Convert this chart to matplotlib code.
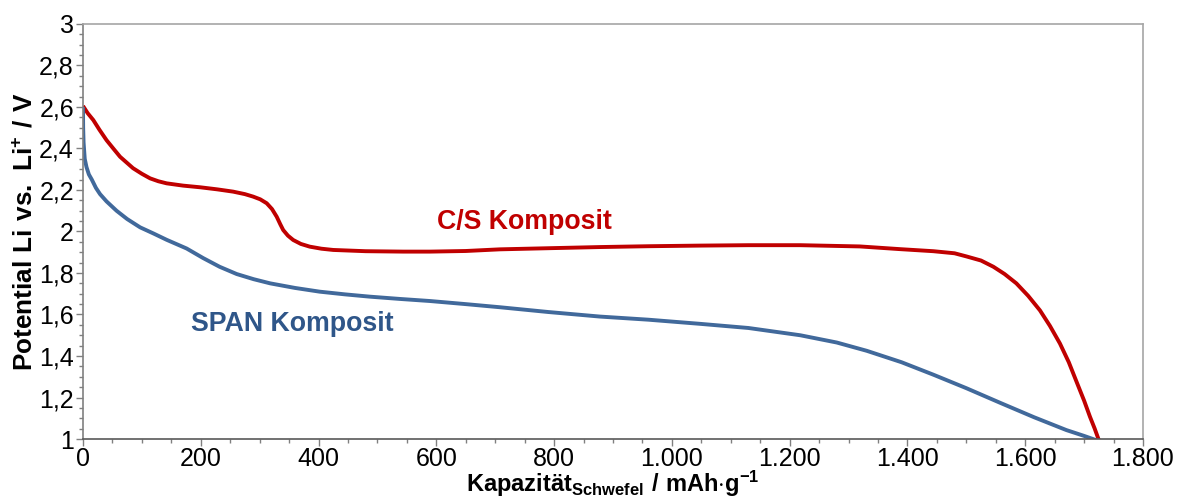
"""Entladekurven C/S- vs. SPAN-Komposit (Potential über Kapazität)."""

import matplotlib

matplotlib.use("Agg")
import matplotlib.pyplot as plt
from matplotlib.ticker import FuncFormatter, MultipleLocator

# C/S Komposit: Kapazität in mAh/g (bezogen auf Schwefel), Potential in V
cap_cs = [0, 8, 17.5, 28, 40, 52, 63, 75, 85, 100, 114, 128, 142, 170, 199,
          228, 255, 275, 289, 301, 312, 321, 329, 335, 340, 348, 357, 370,
          385, 405, 425, 480, 544, 589, 650, 708, 800, 878, 960, 1048, 1130,
          1218, 1319, 1387, 1444, 1480, 1500, 1525, 1546, 1565, 1585, 1605,
          1625, 1642, 1659, 1674, 1688, 1700, 1710, 1718, 1725]
u_cs = [2.605, 2.57, 2.537, 2.49, 2.44, 2.398, 2.36, 2.33, 2.305, 2.278,
        2.256, 2.242, 2.232, 2.221, 2.213, 2.203, 2.192, 2.18, 2.168, 2.155,
        2.136, 2.108, 2.071, 2.035, 2.007, 1.98, 1.959, 1.94, 1.927, 1.917,
        1.911, 1.905, 1.903, 1.903, 1.906, 1.914, 1.92, 1.925, 1.929, 1.932,
        1.934, 1.934, 1.928, 1.915, 1.905, 1.895, 1.88, 1.86, 1.83, 1.795,
        1.75, 1.69, 1.62, 1.545, 1.46, 1.37, 1.27, 1.185, 1.107, 1.05, 0.995]

# SPAN Komposit
cap_span = [0, 0.3, 1, 3, 6, 10, 15, 22, 29, 40, 57, 75, 97, 120, 142, 176,
            204, 232, 261, 290, 318, 360, 402, 445, 487, 538, 589, 650, 708,
            790, 878, 960, 1048, 1130, 1218, 1280, 1331, 1390, 1444, 1500,
            1557, 1615, 1670, 1700, 1725]
u_span = [2.60, 2.50, 2.43, 2.35, 2.31, 2.275, 2.25, 2.21, 2.18, 2.145, 2.10,
          2.06, 2.02, 1.99, 1.96, 1.918, 1.872, 1.83, 1.795, 1.77, 1.75, 1.728,
          1.71, 1.697, 1.686, 1.675, 1.665, 1.65, 1.635, 1.612, 1.59, 1.575,
          1.555, 1.535, 1.50, 1.465, 1.425, 1.37, 1.31, 1.245, 1.175, 1.105,
          1.043, 1.015, 0.99]

RED = "#C00000"
BLUE = "#41699B"
BLUE_TEXT = "#2F5689"

plt.rcParams["font.family"] = ["Liberation Sans", "DejaVu Sans"]
plt.rcParams["mathtext.fontset"] = "custom"
plt.rcParams["mathtext.rm"] = "Liberation Sans"
plt.rcParams["mathtext.bf"] = "Liberation Sans:bold"


def de_decimal(v, _pos):
    s = f"{v:.1f}".rstrip("0").rstrip(".")
    return s.replace(".", ",")


def de_thousands(v, _pos):
    return f"{int(round(v)):,}".replace(",", ".")


fig = plt.figure(figsize=(11.82, 4.99), dpi=100)
ax = fig.add_axes([0.0702, 0.1202, 0.8968, 0.8318])

ax.plot(cap_cs, u_cs, color=RED, lw=2.8, solid_capstyle="butt")
ax.plot(cap_span, u_span, color=BLUE, lw=2.8, solid_capstyle="butt")

ax.set_xlim(0, 1800)
ax.set_ylim(1, 3)
ax.xaxis.set_major_locator(MultipleLocator(200))
ax.xaxis.set_minor_locator(MultipleLocator(50))
ax.yaxis.set_major_locator(MultipleLocator(0.2))
ax.yaxis.set_minor_locator(MultipleLocator(0.05))
ax.xaxis.set_major_formatter(FuncFormatter(de_thousands))
ax.yaxis.set_major_formatter(FuncFormatter(de_decimal))

ax.tick_params(axis="both", which="major", labelsize=18, direction="out",
               length=5, width=1, color="#808080", pad=1.5)
ax.tick_params(axis="x", which="major", pad=0.5)
ax.tick_params(axis="both", which="minor", direction="out",
               length=3, width=1, color="#808080")

ax.spines["left"].set_color("#808080")
ax.spines["bottom"].set_color("#595959")
ax.spines["top"].set_color("#A6A6A6")
ax.spines["right"].set_color("#A6A6A6")
for sp in ax.spines.values():
    sp.set_linewidth(1.2)

ax.set_ylabel(r"$\mathbf{Potential\ Li\ vs.\ Li^{+}\ /\ V}$", fontsize=18.8,
              labelpad=1)
ax.set_xlabel(r"$\mathbf{Kapazität_{Schwefel}\ /\ mAh{\cdot}g^{-1}}$",
              fontsize=17, labelpad=-1)

ax.text(749, 2.046, "C/S Komposit", color=RED, fontsize=19.3,
        fontweight="bold", ha="center", va="center")
ax.text(355, 1.554, "SPAN Komposit", color=BLUE_TEXT, fontsize=19.3,
        fontweight="bold", ha="center", va="center")

fig.savefig("out.png", dpi=100)
